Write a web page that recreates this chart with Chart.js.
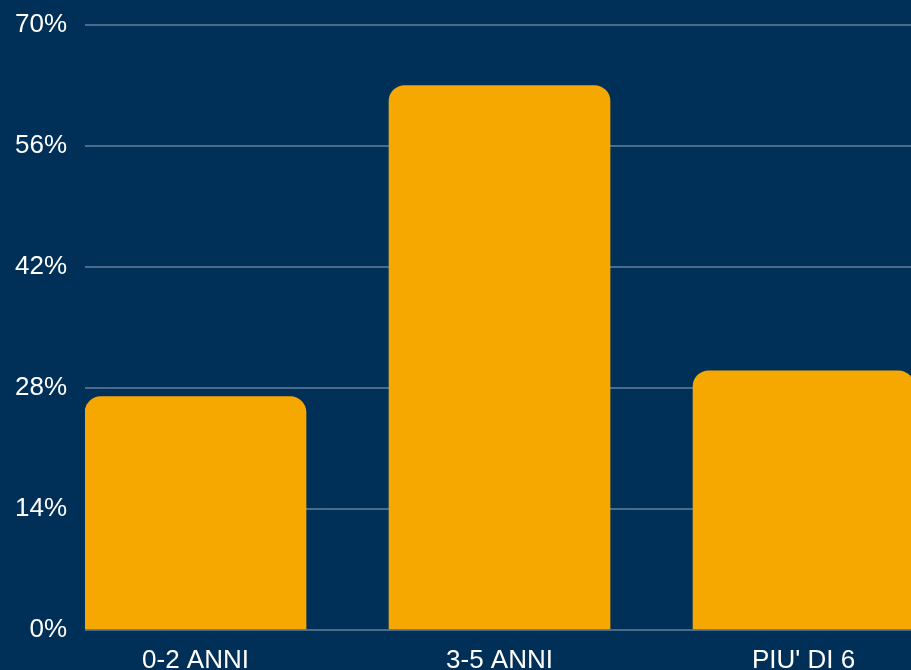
<!DOCTYPE html>
<html>
<head>
<meta charset="utf-8">
<script src="https://cdn.jsdelivr.net/npm/chart.js@4.4.1/dist/chart.umd.min.js"></script>
<style>
  html, body { margin: 0; padding: 0; background: #003057; overflow: hidden; }
  #wrap { width: 911px; height: 670px; }
</style>
</head>
<body>
<div id="wrap"><canvas id="myChart"></canvas></div>
<script>
// categories and values (percent)
const categories = ["0-2 ANNI", "3-5 ANNI", "PIU' DI 6"];
const values = [27, 63, 30];
const yTicks = [0, 14, 28, 42, 56, 70];

const points = values.map((v, i) => ({ x: i, y: v }));

const ctx = document.querySelector('#myChart').getContext('2d');
const myChart = new Chart(ctx, {
    type: 'bar',
    data: {
        datasets: [{
            data: points,
            backgroundColor: '#f7a800',
            borderWidth: 0,
            borderRadius: { topLeft: 16, topRight: 16, bottomLeft: 0, bottomRight: 0 },
            borderSkipped: 'bottom',
            barThickness: 221
        }]
    },
    options: {
        responsive: true,
        maintainAspectRatio: false,
        animation: false,
        layout: { padding: { top: 25, right: 0, bottom: 0, left: 0 } },
        plugins: {
            legend: { display: false },
            tooltip: { enabled: false }
        },
        scales: {
            x: {
                type: 'linear',
                offset: false,
                min: -0.3635,
                max: 2.3535,
                grid: { display: false },
                border: { display: false },
                afterFit: s => { s.height = 40; },
                afterBuildTicks: s => { s.ticks = categories.map((c, i) => ({ value: i })); },
                ticks: {
                    autoSkip: false,
                    maxRotation: 0,
                    padding: 7,
                    color: '#ffffff',
                    font: { family: 'Liberation Sans, Arial, sans-serif', size: 26 },
                    callback: v => categories[v] ?? ''
                }
            },
            y: {
                min: 0,
                max: 70,
                afterFit: s => { s.width = 85; s.paddingTop = 0; },
                afterBuildTicks: s => { s.ticks = yTicks.map(v => ({ value: v })); },
                grid: { color: '#4a6b8c', lineWidth: 2, drawTicks: false },
                border: { display: false },
                ticks: {
                    padding: 18,
                    color: '#ffffff',
                    font: { family: 'Liberation Sans, Arial, sans-serif', size: 26 },
                    callback: v => v + '%'
                }
            }
        }
    }
});
</script>
</body>
</html>
